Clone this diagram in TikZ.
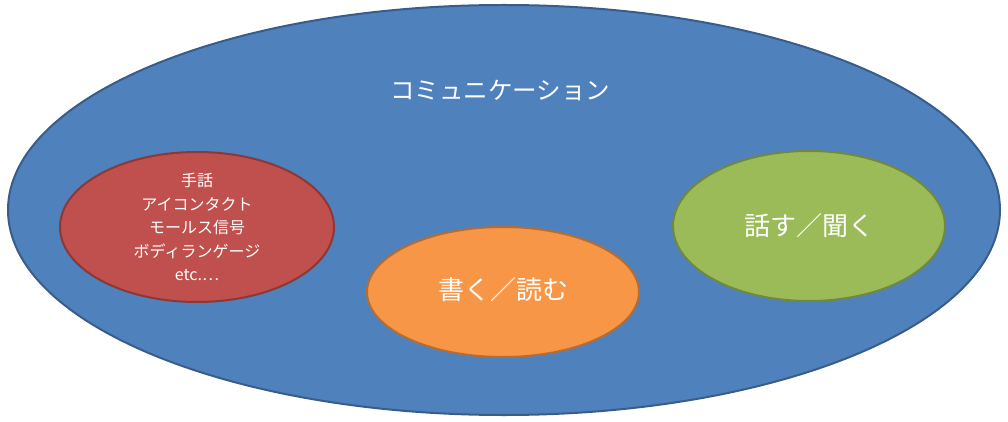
\documentclass[tikz,border=0pt]{standalone}
\usepackage{fontspec}
\setmainfont{Noto Sans CJK JP}
\definecolor{bblue}{HTML}{4F81BD}\definecolor{bbluel}{HTML}{385D8A}
\definecolor{rred}{HTML}{C0504D}\definecolor{rredl}{HTML}{8C3836}
\definecolor{oor}{HTML}{F79646}\definecolor{oorl}{HTML}{B66D31}
\definecolor{ggr}{HTML}{9BBB59}\definecolor{ggrl}{HTML}{71893F}
\begin{document}
\begin{tikzpicture}[x=1pt,y=-1pt,line width=2pt,
 lab/.style={text=white,align=center}]
\useasboundingbox (0,0) rectangle (1008,422);
\draw[fill=bblue,draw=bbluel] (504,210) ellipse [x radius=496,y radius=205];
\draw[fill=rred,draw=rredl] (197,227) ellipse [x radius=137,y radius=75];
\draw[fill=oor,draw=oorl] (503,292) ellipse [x radius=136,y radius=65];
\draw[fill=ggr,draw=ggrl] (809,226) ellipse [x radius=136,y radius=75];
\node[lab,font=\fontsize{24.5}{28}\selectfont] (t) at (500,90) {コミュニケーション};
\node[lab,font=\fontsize{16}{23.5}\selectfont] (r) at (197,227) {手話\\アイコンタクト\\モールス信号\\ボディランゲージ\\etc.…};
\node[lab,font=\fontsize{26}{30}\selectfont] (o) at (503,290) {書く／読む};
\node[lab,font=\fontsize{26}{30}\selectfont] (g) at (809,226) {話す／聞く};
\end{tikzpicture}
\end{document}
